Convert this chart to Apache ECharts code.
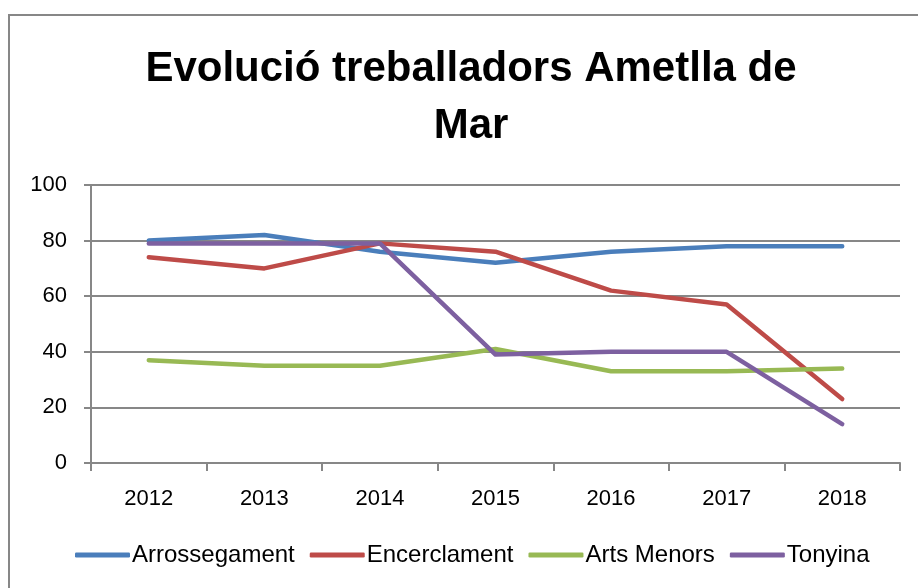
<!DOCTYPE html>
<html>
<head>
<meta charset="utf-8">
<script src="https://cdn.jsdelivr.net/npm/echarts@6/dist/echarts.min.js"></script>
<style>
  html, body { margin: 0; padding: 0; background: #fff; }
  #chart { width: 918px; height: 588px; }
</style>
</head>
<body>
<div id="chart"></div>
<script>
// 数据
var years = ['2012', '2013', '2014', '2015', '2016', '2017', '2018'];
var arrossegament = [80, 82, 76, 72, 76, 78, 78];
var encerclament = [74, 70, 79, 76, 62, 57, 23];
var artsMenors = [37, 35, 35, 41, 33, 33, 34];
var tonyina = [79, 79, 79, 39, 40, 40, 14];

var names = ['Arrossegament', 'Encerclament', 'Arts Menors', 'Tonyina'];
var colors = ['#4A7EBB', '#BE4B48', '#98B954', '#7D60A0'];
var values = [arrossegament, encerclament, artsMenors, tonyina];

var font = '"Liberation Sans", Arial, sans-serif';
var gray = '#878787';

var chart = echarts.init(document.getElementById('chart'));

var option = {
    animation: false,
    color: colors,
    // 外边框
    graphic: [{
        type: 'rect',
        shape: { x: 9, y: 15, width: 1000, height: 1000 },
        style: { fill: 'none', stroke: gray, lineWidth: 2 },
        silent: true
    }],
    title: {
        text: 'Evolució treballadors Ametlla de\nMar',
        left: 466,
        top: 36,
        textAlign: 'center',
        textStyle: {
            fontFamily: font,
            fontWeight: 'bold',
            fontSize: 42,
            lineHeight: 57,
            color: '#000'
        }
    },
    legend: {
        top: 538,
        left: 70,
        itemWidth: 55,
        itemHeight: 5,
        itemGap: 15,
        icon: 'roundRect',
        textStyle: { fontFamily: font, fontSize: 24, color: '#000', padding: [0, 0, 0, -3] },
        data: names
    },
    grid: {
        left: 91,
        right: 18,
        top: 185,
        bottom: 125
    },
    xAxis: {
        type: 'category',
        data: years,
        boundaryGap: true,
        axisLine: { lineStyle: { color: gray, width: 2 } },
        axisTick: { show: true, length: 8, lineStyle: { color: gray, width: 2 } },
        axisLabel: { margin: 25, fontFamily: font, fontSize: 22, color: '#000' }
    },
    yAxis: {
        type: 'value',
        min: 0,
        max: 100,
        interval: 20,
        axisLine: { show: true, lineStyle: { color: gray, width: 2 } },
        axisTick: { show: true, length: 7, lineStyle: { color: gray, width: 2 } },
        splitLine: { lineStyle: { color: gray, width: 2 } },
        axisLabel: { margin: 24, fontFamily: font, fontSize: 22, color: '#000' }
    },
    series: names.map(function (n, i) {
        return {
            name: n,
            type: 'line',
            data: values[i],
            symbol: 'none',
            lineStyle: { width: 4.5, cap: 'round', join: 'round' }
        };
    })
};

chart.setOption(option);
</script>
</body>
</html>
